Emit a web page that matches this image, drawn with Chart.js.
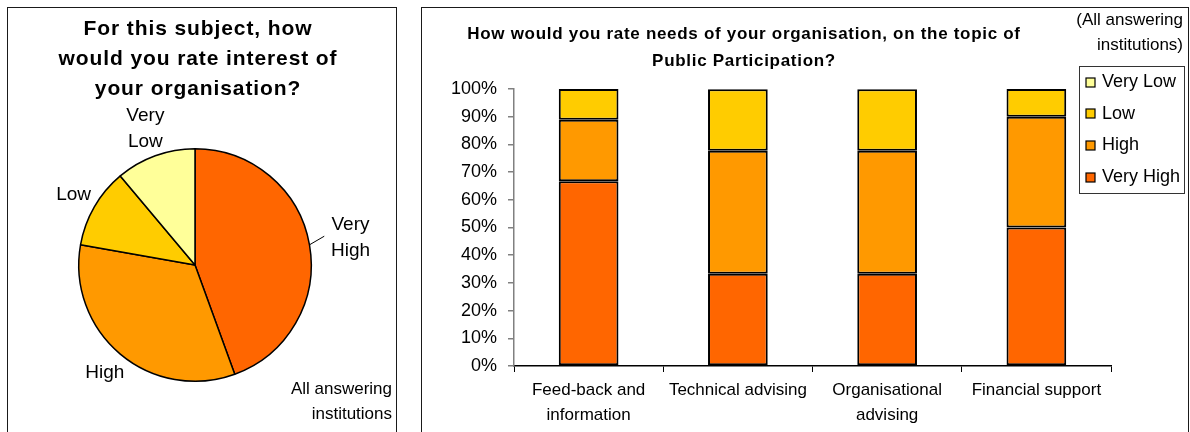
<!DOCTYPE html>
<html><head><meta charset="utf-8">
<script src="https://cdn.jsdelivr.net/npm/chart.js@4.4.1/dist/chart.umd.min.js"></script>
<style>
html,body{margin:0;padding:0;background:#fff;overflow:hidden;width:1190px;height:432px;}
.panel{position:absolute;border:1px solid #1a1a1a;}
#p1{left:7px;top:7px;width:388px;height:440px;}
#p2{left:421px;top:7px;width:766px;height:440px;}
canvas{position:absolute;left:0;top:0;}
</style></head><body>
<div class="panel" id="p1"><canvas id="pie" width="388" height="424"></canvas></div>
<div class="panel" id="p2"><canvas id="bar" width="766" height="424"></canvas></div>
<script>
// ---- data ----
const ratingLabels = ['Very High', 'High', 'Low', 'Very Low'];
const ratingColors = ['#FF6600', '#FF9900', '#FFCC00', '#FFFF99'];
const pieValues = [44.4, 33.3, 11.1, 11.1];
const pieTitle = ['For this subject, how', 'would you rate interest of', 'your organisation?'];
const pieNote = ['All answering', 'institutions'];

const categories = [['Feed-back and', 'information'], 'Technical advising', ['Organisational', 'advising'], 'Financial support'];
const veryHigh = [66.7, 33.3, 33.3, 50];
const high = [22.2, 44.4, 44.4, 40];
const low = [11.1, 22.2, 22.2, 10];
const veryLow = [0, 0, 0, 0];
const barTitle = ['How would you rate needs of your organisation, on the topic of', 'Public Participation?'];
const barNote = ['(All answering', 'institutions)'];
const yMax = 100, yStep = 10;

const FONT = '"Liberation Sans", Arial, sans-serif';
Chart.defaults.font.family = FONT;
Chart.defaults.color = '#000';

// ---- pie chart ----
const pieDecor = {
  id: 'pieDecor',
  afterDraw(chart) {
    const ctx = chart.ctx;
    ctx.save();
    ctx.fillStyle = '#000';
    // title
    ctx.font = 'bold 21px ' + FONT;
    try { ctx.letterSpacing = '0.9px'; } catch (e) {}
    ctx.textAlign = 'center'; ctx.textBaseline = 'middle';
    pieTitle.forEach((t, i) => ctx.fillText(t, 190, 21 + i * 30));
    try { ctx.letterSpacing = '0px'; } catch (e) {}
    // slice labels
    const meta = chart.getDatasetMeta(0);
    ctx.font = '19px ' + FONT;
    const lh = 26;
    meta.data.forEach((arc, i) => {
      const p = arc.getProps(['x', 'y', 'startAngle', 'endAngle', 'outerRadius'], true);
      const mid = (p.startAngle + p.endAngle) / 2;
      const ux = Math.cos(mid), uy = Math.sin(mid);
      const lines = chart.data.labels[i].split(' ');
      const w = Math.max(...lines.map(l => ctx.measureText(l).width));
      const h = lines.length * lh;
      let d = p.outerRadius + 4;
      if (i === 0) {
        ctx.strokeStyle = '#000'; ctx.lineWidth = 1;
        ctx.beginPath();
        ctx.moveTo(p.x + ux * p.outerRadius, p.y + uy * p.outerRadius);
        ctx.lineTo(p.x + ux * (p.outerRadius + 15), p.y + uy * (p.outerRadius + 15) - 6);
        ctx.stroke();
        d += 15;
      }
      d += Math.abs(ux) * w / 2 + Math.abs(uy) * h * 0.75 / 2;
      const cx = p.x + ux * d, cy = p.y + uy * d;
      lines.forEach((l, k) => ctx.fillText(l, cx, cy - h / 2 + lh / 2 + k * lh));
    });
    // note
    ctx.font = '17px ' + FONT;
    ctx.textAlign = 'right';
    pieNote.forEach((t, i) => ctx.fillText(t, 384, 381 + i * 25));
    ctx.restore();
  }
};

new Chart(document.getElementById('pie'), {
  type: 'pie',
  data: {
    labels: ratingLabels,
    datasets: [{ data: pieValues, backgroundColor: ratingColors, borderColor: '#000', borderWidth: 1.5 }]
  },
  options: {
    responsive: false, animation: false,
    layout: { padding: { left: 70, right: 84, top: 139, bottom: 49 } },
    plugins: { legend: { display: false }, tooltip: { enabled: false }, title: { display: false } }
  },
  plugins: [pieDecor]
});

// ---- bar chart ----
const barDecor = {
  id: 'barDecor',
  afterDraw(chart) {
    const ctx = chart.ctx;
    ctx.save();
    ctx.fillStyle = '#000';
    ctx.textBaseline = 'middle';
    // title
    ctx.font = 'bold 17px ' + FONT;
    try { ctx.letterSpacing = '0.7px'; } catch (e) {}
    ctx.textAlign = 'center';
    barTitle.forEach((t, i) => ctx.fillText(t, 322, 26 + i * 27));
    try { ctx.letterSpacing = '0px'; } catch (e) {}
    // note
    ctx.font = '17px ' + FONT;
    ctx.textAlign = 'right';
    barNote.forEach((t, i) => ctx.fillText(t, 761, 12 + i * 25));
    // legend
    const bx = 657, by = 58, bw = 105, bh = 127;
    ctx.fillStyle = '#fff';
    ctx.fillRect(bx, by, bw, bh);
    ctx.strokeStyle = '#333'; ctx.lineWidth = 1;
    ctx.strokeRect(bx + 0.5, by + 0.5, bw, bh);
    ctx.font = '18px ' + FONT;
    ctx.textAlign = 'left';
    const ds = chart.data.datasets.slice().reverse();
    ds.forEach((d, i) => {
      const y = 74 + i * 31.7;
      ctx.fillStyle = d.backgroundColor;
      ctx.fillRect(664, Math.round(y - 4.5), 9, 9);
      ctx.strokeStyle = '#000'; ctx.lineWidth = 1.2;
      ctx.strokeRect(664, Math.round(y - 4.5), 9, 9);
      ctx.fillStyle = '#000';
      ctx.fillText(d.label, 680, y);
    });
    ctx.restore();
  }
};

const seriesValues = [veryHigh, high, low, veryLow];
new Chart(document.getElementById('bar'), {
  type: 'bar',
  data: {
    labels: categories,
    datasets: ratingLabels.map((lab, i) => ({
      label: lab, data: seriesValues[i], backgroundColor: ratingColors[i],
      borderColor: '#000', borderWidth: 2, borderSkipped: false,
      categoryPercentage: 1, barPercentage: 0.4
    }))
  },
  options: {
    responsive: false, animation: false,
    layout: { padding: { left: 0, right: 77, top: 81, bottom: 6 } },
    plugins: { legend: { display: false }, tooltip: { enabled: false }, title: { display: false } },
    scales: {
      x: {
        stacked: true,
        grid: { display: true, drawOnChartArea: false, offset: true, color: '#000', tickLength: 6, lineWidth: 1 },
        border: { color: '#000', width: 1.5 },
        ticks: { font: { size: 17, lineHeight: 1.47 }, color: '#000', padding: 6, maxRotation: 0, autoSkip: false },
        afterFit(s) { s.height = 60; }
      },
      y: {
        stacked: true, min: 0, max: yMax,
        grid: { display: true, drawOnChartArea: false, color: '#808080', tickLength: 6, lineWidth: 1.5 },
        border: { color: '#808080', width: 1.5 },
        ticks: { stepSize: yStep, font: { size: 18 }, color: '#000', padding: 11, callback: v => v + '%' },
        afterFit(s) { s.width = 92; }
      }
    }
  },
  plugins: [barDecor]
});
</script>
</body></html>
